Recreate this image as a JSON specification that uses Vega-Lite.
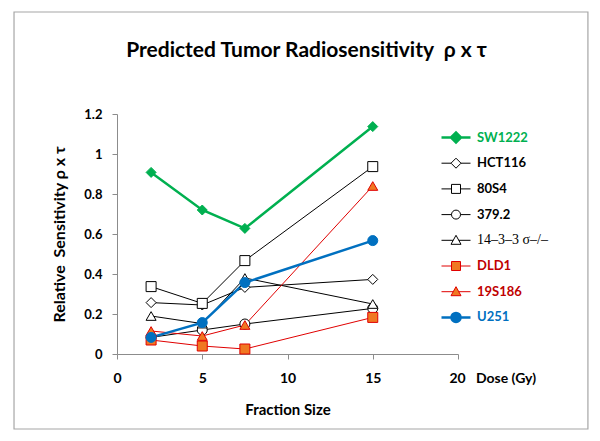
{
  "$schema": "https://vega.github.io/schema/vega-lite/v6.json",
  "width": 341,
  "height": 240,
  "autosize": {"type": "none"},
  "padding": {"left": 117, "top": 114, "right": 142, "bottom": 87},
  "background": "white",
  "config": {
    "view": {"stroke": null},
    "font": "Lato",
    "axis": {"labelFont": "Lato", "titleFont": "Lato"}
  },
  "title": {
    "text": "Predicted Tumor Radiosensitivity\u00a0\u00a0ρ x τ",
    "font": "Lato",
    "fontSize": 21,
    "fontWeight": "bold",
    "color": "black",
    "anchor": "middle",
    "dx": 19,
    "offset": -50
  },
  "datasets": {
    "frame": [{"dose": -6.04, "dose2": 27.62, "s": 1.71, "s2": -0.375}]
  },
  "data": {
    "values": [
      {"series": "SW1222", "dose": 2, "s": 0.908},
      {"series": "SW1222", "dose": 5, "s": 0.72},
      {"series": "SW1222", "dose": 7.5, "s": 0.628},
      {"series": "SW1222", "dose": 15, "s": 1.137},
      {"series": "HCT116", "dose": 2, "s": 0.257},
      {"series": "HCT116", "dose": 5, "s": 0.245},
      {"series": "HCT116", "dose": 7.5, "s": 0.333},
      {"series": "HCT116", "dose": 15, "s": 0.373},
      {"series": "80S4", "dose": 2, "s": 0.337},
      {"series": "80S4", "dose": 5, "s": 0.253},
      {"series": "80S4", "dose": 7.5, "s": 0.467},
      {"series": "80S4", "dose": 15, "s": 0.937},
      {"series": "379.2", "dose": 2, "s": 0.083},
      {"series": "379.2", "dose": 5, "s": 0.12},
      {"series": "379.2", "dose": 7.5, "s": 0.15},
      {"series": "379.2", "dose": 15, "s": 0.228},
      {"series": "14–3–3 σ–/–", "dose": 2, "s": 0.19},
      {"series": "14–3–3 σ–/–", "dose": 5, "s": 0.152},
      {"series": "14–3–3 σ–/–", "dose": 7.5, "s": 0.38},
      {"series": "14–3–3 σ–/–", "dose": 15, "s": 0.25},
      {"series": "DLD1", "dose": 2, "s": 0.07},
      {"series": "DLD1", "dose": 5, "s": 0.04},
      {"series": "DLD1", "dose": 7.5, "s": 0.025},
      {"series": "DLD1", "dose": 15, "s": 0.183},
      {"series": "19S186", "dose": 2, "s": 0.115},
      {"series": "19S186", "dose": 5, "s": 0.09},
      {"series": "19S186", "dose": 7.5, "s": 0.145},
      {"series": "19S186", "dose": 15, "s": 0.84},
      {"series": "U251", "dose": 2, "s": 0.083},
      {"series": "U251", "dose": 5, "s": 0.157},
      {"series": "U251", "dose": 7.5, "s": 0.357},
      {"series": "U251", "dose": 15, "s": 0.567}
    ]
  },
  "encoding": {
    "x": {
      "field": "dose", "type": "quantitative",
      "scale": {"domain": [0, 20], "nice": false, "zero": false},
      "axis": {
        "title": "Fraction Size",
        "titleFontSize": 15, "titleFontWeight": "bold", "titleColor": "black", "titlePadding": 17,
        "values": [0, 5, 10, 15, 20],
        "labelFontSize": 14, "labelFontWeight": "bold", "labelColor": "black", "labelPadding": 12,
        "labelExpr": "datum.value == 20 ? '20\u00a0\u00a0 Dose (Gy)' : datum.label",
        "labelAlign": {"condition": {"test": "datum.value == 20", "value": "left"}, "value": "center"},
        "labelOffset": {"condition": {"test": "datum.value == 20", "value": -9}, "value": 0},
        "labelOverlap": false, "labelBound": false, "labelFlush": false,
        "domainColor": "#8C8C8C", "tickColor": "#8C8C8C", "tickSize": 5, "grid": false
      }
    },
    "y": {
      "field": "s", "type": "quantitative",
      "scale": {"domain": [0, 1.2], "nice": false, "zero": false},
      "axis": {
        "title": "Relative\u00a0\u00a0Sensitivity ρ x τ",
        "titleFontSize": 16, "titleFontWeight": "bold", "titleColor": "black", "titlePadding": 16,
        "values": [0, 0.2, 0.4, 0.6, 0.8, 1, 1.2],
        "format": "~g",
        "labelFontSize": 13, "labelFontWeight": "bold", "labelColor": "black", "labelPadding": 10,
        "labelOverlap": false, "labelFlush": false,
        "domainColor": "#8C8C8C", "tickColor": "#8C8C8C", "tickSize": 5, "grid": false
      }
    }
  },
  "layer": [
    {
      "data": {"name": "frame"},
      "mark": {"type": "rect", "fill": null, "stroke": "#A6A6A6", "strokeWidth": 1.2, "clip": false},
      "encoding": {
        "x2": {"field": "dose2"},
        "y2": {"field": "s2"}
      }
    },
    {
      "mark": {"type": "line", "clip": false},
      "encoding": {
        "detail": {"field": "series"},
        "color": {
          "field": "series", "type": "nominal",
          "scale": {
            "domain": ["SW1222", "HCT116", "80S4", "379.2", "14–3–3 σ–/–", "DLD1", "19S186", "U251"],
            "range": ["#00B050", "#000000", "#000000", "#000000", "#000000", "#E00000", "#E00000", "#0070C0"]
          },
          "legend": {
            "orient": "none",
            "legendX": 332.5,
            "legendY": 17,
            "title": null,
            "padding": 0,
            "columns": 1,
            "gridAlign": "all",
            "symbolSize": 100,
            "labelFontSize": 13,
            "labelFont": "Lato",
            "labelFontWeight": "bold",
            "labelOffset": 14.5,
            "rowPadding": 5.7,
            "labelLimit": 200,
            "encode": {
              "symbols": {
                "update": {
                  "shape": {"signal": "['M-2.9,0H-1M1,0H2.9M-1,0L0,-1L1,0L0,1Z','M-2.9,0H-1M1,0H2.9M-1,0L0,-1L1,0L0,1Z','M-2.9,0H-0.9M0.9,0H2.9M-0.9,-0.9H0.9V0.9H-0.9Z','M-2.9,0H-0.9M0.9,0H2.9M-0.9,0A0.9,0.9 0 1,0 0.9,0A0.9,0.9 0 1,0 -0.9,0Z','M-2.9,0H-0.56M0.56,0H2.9M0,-1L1,0.8H-1Z','M-2.9,0H-0.9M0.9,0H2.9M-0.9,-0.9H0.9V0.9H-0.9Z','M-2.9,0H-0.56M0.56,0H2.9M0,-1L1,0.8H-1Z','M-2.9,0H-0.9M0.9,0H2.9M-0.9,0A0.9,0.9 0 1,0 0.9,0A0.9,0.9 0 1,0 -0.9,0Z'][indexof(['SW1222','HCT116','80S4','379.2','14–3–3 σ–/–','DLD1','19S186','U251'], datum.value)]"},
                  "fill": {"signal": "['#00B050','#FFFFFF','#FFFFFF','#FFFFFF','#FFFFFF','#F07822','#F07822','#0070C0'][indexof(['SW1222','HCT116','80S4','379.2','14–3–3 σ–/–','DLD1','19S186','U251'], datum.value)]"},
                  "stroke": {"signal": "['#00B050','#000000','#000000','#000000','#000000','#E00000','#E00000','#0070C0'][indexof(['SW1222','HCT116','80S4','379.2','14–3–3 σ–/–','DLD1','19S186','U251'], datum.value)]"},
                  "strokeWidth": {"signal": "(datum.value == 'SW1222' || datum.value == 'U251') ? 2.5 : 1"},
                  "opacity": {"value": 1}
                }
              },
              "labels": {
                "update": {
                  "fill": {"signal": "['#00B050','#000000','#000000','#000000','#000000','#C00000','#C00000','#0070C0'][indexof(['SW1222','HCT116','80S4','379.2','14–3–3 σ–/–','DLD1','19S186','U251'], datum.value)]"},
                  "font": {"signal": "datum.value == '14–3–3 σ–/–' ? 'Liberation Serif' : 'Lato'"},
                  "fontWeight": {"signal": "datum.value == '14–3–3 σ–/–' ? 'normal' : 'bold'"},
                  "fontSize": {"signal": "datum.value == '14–3–3 σ–/–' ? 14 : 13"}
                }
              }
            }
          }
        },
        "strokeWidth": {
          "field": "series", "type": "nominal",
          "scale": {
            "type": "ordinal",
            "domain": ["SW1222", "HCT116", "80S4", "379.2", "14–3–3 σ–/–", "DLD1", "19S186", "U251"],
            "range": [2.5, 1, 1, 1, 1, 1, 1, 2.5]
          },
          "legend": null
        }
      }
    },
    {
      "mark": {"type": "point", "filled": true, "size": 100, "strokeWidth": 1, "opacity": 1, "clip": false},
      "encoding": {
        "shape": {
          "field": "series", "type": "nominal",
          "scale": {
            "domain": ["SW1222", "HCT116", "80S4", "379.2", "14–3–3 σ–/–", "DLD1", "19S186", "U251"],
            "range": ["diamond", "diamond", "square", "circle", "triangle-up", "square", "triangle-up", "circle"]
          },
          "legend": null
        },
        "fill": {
          "field": "series", "type": "nominal",
          "scale": {
            "domain": ["SW1222", "HCT116", "80S4", "379.2", "14–3–3 σ–/–", "DLD1", "19S186", "U251"],
            "range": ["#00B050", "#FFFFFF", "#FFFFFF", "#FFFFFF", "#FFFFFF", "#F07822", "#F07822", "#0070C0"]
          },
          "legend": null
        },
        "stroke": {
          "field": "series", "type": "nominal",
          "scale": {
            "domain": ["SW1222", "HCT116", "80S4", "379.2", "14–3–3 σ–/–", "DLD1", "19S186", "U251"],
            "range": ["#00B050", "#000000", "#000000", "#000000", "#000000", "#E00000", "#E00000", "#0070C0"]
          },
          "legend": null
        }
      }
    }
  ],
  "resolve": {"scale": {"color": "independent", "stroke": "independent"}}
}
